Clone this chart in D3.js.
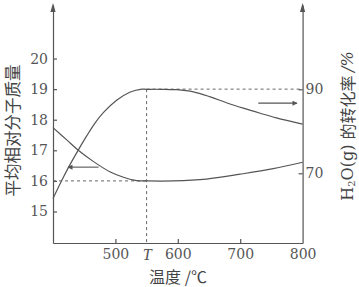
<!DOCTYPE html>
<html>
<head>
<meta charset="utf-8">
<script src="https://cdn.jsdelivr.net/npm/d3@7"></script>
<style>
  body { margin: 0; background: #fff; }
  .axis path, .axis line { stroke: #555; stroke-width: 1.2; }
  .axis text { fill: #555; font-family: "DejaVu Serif", serif; font-size: 14px; }
</style>
</head>
<body>
<script>
// Chart data
var convTemps = [400, 414, 427, 440, 454, 467, 481, 502, 523, 540, 550, 572, 598, 625, 652, 678, 705, 732, 758, 800];
var conversion = [64.0, 68.3, 72.0, 75.4, 78.9, 81.9, 84.5, 87.4, 89.3, 90.0, 90.0, 90.0, 89.9, 89.4, 88.2, 86.8, 85.5, 84.3, 83.2, 81.7];

var massTemps = [400, 422, 440, 465, 491, 513, 534, 550, 593, 646, 700, 753, 800];
var massValues = [17.74, 17.34, 17.01, 16.63, 16.30, 16.12, 16.01, 16.0, 16.0, 16.06, 16.22, 16.40, 16.61];

var xTicks = [500, 550, 600, 700, 800];
var xTickLabels = ["500", "T", "600", "700", "800"];
var leftTicks = [15, 16, 17, 18, 19, 20];
var rightTicks = [70, 90];
var tPoint = 550;

// SVG area
var svgWidth = 359;
var svgHeight = 287;
var margin = { top: 5, right: 56.4, bottom: 44, left: 53 };
var chartWidth = svgWidth - margin.left - margin.right;
var chartHeight = svgHeight - margin.top - margin.bottom;

var svg = d3.select("body")
  .append("svg")
  .attr("width", svgWidth)
  .attr("height", svgHeight);

var chartGroup = svg.append("g")
  .attr("transform", `translate(${margin.left}, ${margin.top})`);

// scales
var x = d3.scaleLinear().domain([400, 800]).range([0, chartWidth]);
var yLeft = d3.scaleLinear().domain([13.97, 21.75]).range([chartHeight, 0]);
var yRight = d3.scaleLinear().domain([53.4, 110.07]).range([chartHeight, 0]);

// arrow marker for the pointer arrows
svg.append("defs").append("marker")
  .attr("id", "head")
  .attr("viewBox", "0 0 10 10")
  .attr("refX", 9).attr("refY", 5)
  .attr("markerUnits", "userSpaceOnUse")
  .attr("markerWidth", 6).attr("markerHeight", 5)
  .attr("orient", "auto")
  .append("path")
  .attr("d", "M0,0 L10,5 L0,10 Z")
  .attr("fill", "#555");

// dashed guides
var guide = chartGroup.append("g")
  .attr("stroke", "#666")
  .attr("stroke-width", 1)
  .attr("stroke-dasharray", "3,3")
  .attr("fill", "none");
guide.append("line")
  .attr("x1", x(tPoint)).attr("x2", x(800))
  .attr("y1", yLeft(19)).attr("y2", yLeft(19));
guide.append("line")
  .attr("x1", x(tPoint)).attr("x2", x(tPoint))
  .attr("y1", yLeft(19)).attr("y2", chartHeight);
guide.append("line")
  .attr("x1", 0).attr("x2", x(tPoint))
  .attr("y1", yLeft(16)).attr("y2", yLeft(16));

// x axis
var xAxis = d3.axisBottom(x)
  .tickValues(xTicks)
  .tickSize(-4)
  .tickSizeOuter(0)
  .tickPadding(6)
  .tickFormat(function(d, i) { return xTickLabels[i]; });
var gx = chartGroup.append("g")
  .attr("class", "axis")
  .attr("transform", "translate(0," + chartHeight + ")")
  .call(xAxis);
gx.selectAll(".tick")
  .filter(function(d) { return d === tPoint || d === 800; })
  .select("line").remove();
gx.selectAll(".tick text")
  .filter(function(d) { return d === tPoint; })
  .style("font-style", "italic")
  .style("font-family", "'Liberation Serif', serif")
  .style("font-size", "16px");

// left axis
chartGroup.append("g")
  .attr("class", "axis")
  .call(d3.axisLeft(yLeft).tickValues(leftTicks).tickSize(-4).tickSizeOuter(0).tickPadding(5));

// right axis
chartGroup.append("g")
  .attr("class", "axis")
  .attr("transform", "translate(" + chartWidth + ",0)")
  .call(d3.axisRight(yRight).tickValues(rightTicks).tickSize(-4).tickSizeOuter(0).tickPadding(3));

// arrow heads on top of the y axes
[0, chartWidth].forEach(function(px) {
  chartGroup.append("path")
    .attr("d", `M${px},-2 L${px - 2.6},7 L${px + 2.6},7 Z`)
    .attr("fill", "#555");
});

// curves
var line = d3.line().curve(d3.curveCatmullRom.alpha(0.5));

chartGroup.append("path")
  .attr("fill", "none")
  .attr("stroke", "#555")
  .attr("stroke-width", 1.2)
  .attr("d", line(convTemps.map(function(t, i) { return [x(t), yRight(conversion[i])]; })));

chartGroup.append("path")
  .attr("fill", "none")
  .attr("stroke", "#555")
  .attr("stroke-width", 1.2)
  .attr("d", line(massTemps.map(function(t, i) { return [x(t), yLeft(massValues[i])]; })));

// pointer arrows
chartGroup.append("line")
  .attr("x1", x(473)).attr("x2", x(424))
  .attr("y1", yLeft(16.45)).attr("y2", yLeft(16.45))
  .attr("stroke", "#555").attr("stroke-width", 1.1)
  .attr("marker-end", "url(#head)");

chartGroup.append("line")
  .attr("x1", x(729)).attr("x2", x(791))
  .attr("y1", yRight(86.7)).attr("y2", yRight(86.7))
  .attr("stroke", "#555").attr("stroke-width", 1.1)
  .attr("marker-end", "url(#head)");

// axis titles
svg.append("text")
  .attr("x", 178).attr("y", 283)
  .attr("text-anchor", "middle")
  .style("font-family", "'Noto Sans CJK SC', sans-serif")
  .style("font-size", "16px")
  .style("fill", "#444")
  .text("温度 /℃");

svg.append("text")
  .attr("transform", "translate(12,130.5) rotate(-90)")
  .attr("text-anchor", "middle")
  .attr("dominant-baseline", "central")
  .style("font-family", "'Noto Sans CJK SC', sans-serif")
  .style("font-size", "16.5px")
  .style("fill", "#444")
  .text("平均相对分子质量");

var rTitle = svg.append("text")
  .attr("transform", "translate(347,126) rotate(-90)")
  .attr("text-anchor", "middle")
  .attr("dominant-baseline", "central")
  .style("font-family", "'Noto Sans CJK SC', sans-serif")
  .style("font-size", "16px")
  .style("fill", "#444");
rTitle.append("tspan").style("font-family", "'DejaVu Serif', serif").text("H");
rTitle.append("tspan").style("font-family", "'DejaVu Serif', serif").style("font-size", "10px").attr("dy", 4).text("2");
rTitle.append("tspan").style("font-family", "'DejaVu Serif', serif").attr("dy", -4).text("O(g) ");
rTitle.append("tspan").text("的转化率 ");
rTitle.append("tspan").style("font-family", "'DejaVu Serif', serif").style("font-style", "italic").text("/%");
</script>
</body>
</html>
